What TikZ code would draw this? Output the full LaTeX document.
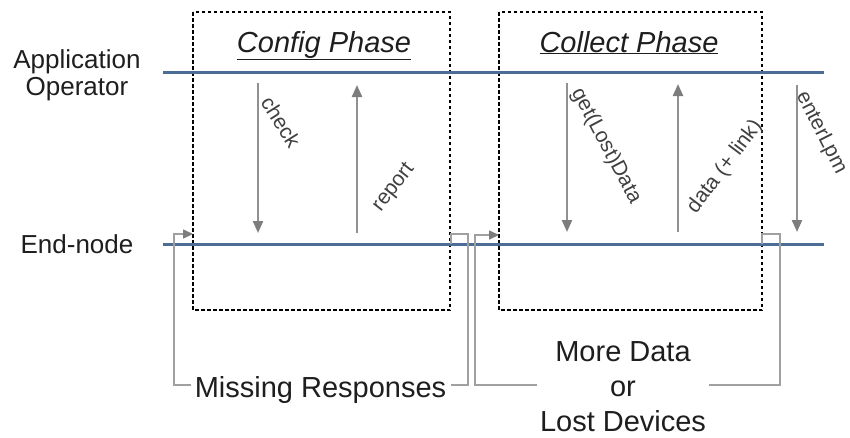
\documentclass[tikz,border=0pt]{standalone}
\usepackage{fontspec}
\setmainfont{Liberation Sans}
\usetikzlibrary{arrows.meta}
\definecolor{laneblue}{RGB}{76,110,150}
\definecolor{msggray}{RGB}{145,145,145}
\definecolor{loopgray}{RGB}{160,160,160}
\definecolor{headgray}{RGB}{125,125,125}
\definecolor{textdark}{RGB}{30,30,30}
\begin{document}
\begin{tikzpicture}[x=1pt,y=-1pt,
  lane/.style={draw=laneblue, line width=3pt},
  phasebox/.style={draw=black, line width=1.1pt, dash pattern=on 3.5pt off 2.5pt},
  msg/.style={draw=msggray, line width=2.2pt, -{Triangle[length=12pt,width=10pt,color=headgray]}},
  loopline/.style={draw=loopgray, line width=1.6pt},
  looparrow/.style={loopline, -{Triangle[length=10pt,width=9pt,color=headgray]}},
  big/.style={font=\fontsize{29}{35}\selectfont, text=textdark, inner sep=0pt},
  role/.style={font=\fontsize{26}{27}\selectfont, align=center, text=textdark, inner sep=0pt},
  title/.style={font=\fontsize{29}{35}\selectfont\itshape, text=textdark, inner sep=0pt},
  msglabel/.style={font=\fontsize{21}{24}\selectfont, text=textdark!85, inner sep=0pt},
]
\useasboundingbox[fill=white] (0,0) rectangle (850,437);

% phase frames
\draw[phasebox] (193,12) rectangle (450,310);
\draw[phasebox] (499,12) rectangle (762,310);
\node[title, anchor=base] (cfgTitle) at (324,52) {\underline{Config Phase}};
\node[title, anchor=base] (colTitle) at (629,52) {\underline{Collect Phase}};

% role names
\node[role] (appOp) at (77,75) {Application\\Operator};
\node[role, anchor=base] (endNode) at (77,253) {End-node};

% life lines
\coordinate (opL) at (163,72);  \coordinate (opR) at (824,72);
\coordinate (enL) at (163,244); \coordinate (enR) at (824,244);
\draw[lane] (opL) -- (opR);
\draw[lane] (enL) -- (enR);

% message end points
\coordinate (chkS) at (258,83);  \coordinate (chkE) at (258,233);
\coordinate (repS) at (357,233); \coordinate (repE) at (357,85);
\coordinate (getS) at (567,83);  \coordinate (getE) at (567,232);
\coordinate (datS) at (678,232); \coordinate (datE) at (678,84);
\coordinate (lpmS) at (797,85);  \coordinate (lpmE) at (797,232);

\draw[msg] (chkS) -- (chkE);
\draw[msg] (repS) -- (repE);
\draw[msg] (getS) -- (getE);
\draw[msg] (datS) -- (datE);
\draw[msg] (lpmS) -- (lpmE);

\node[msglabel, rotate=-58] (chkLbl) at (281,122) {check};
\node[msglabel, rotate=52]  (repLbl) at (394,188) {report};
\node[msglabel, rotate=-62] (getLbl) at (606,146) {get(Lost)Data};
\node[msglabel, rotate=53]  (datLbl) at (725,167) {data (+ link)};
\node[msglabel, rotate=-63] (lpmLbl) at (821,133) {enterLpm};

% repeat loops
\node[big, anchor=base] (missing) at (320.5,397) {Missing Responses};
\node[big, align=center] (moreData) at (623,386.5) {More Data\\or\\Lost Devices};

\coordinate (cfgIn)  at (193,234);
\coordinate (cfgOut) at (451,244);
\coordinate (mrA) at (191,385);
\coordinate (mrB) at (451,385);
\draw[looparrow] (mrA) -- ++(-17,0) |- (cfgIn);
\draw[loopline] (cfgOut) -- ++(0,-10) -- ++(17,0) |- (mrB);

\coordinate (colIn)  at (499,235);
\coordinate (colOut) at (762,244);
\coordinate (mdA) at (537,385);
\coordinate (mdB) at (709,385);
\draw[looparrow] (mdA) -- ++(-62,0) |- (colIn);
\draw[loopline] (colOut) -- ++(0,-10) -- ++(18,0) |- (mdB);
\end{tikzpicture}
\end{document}
